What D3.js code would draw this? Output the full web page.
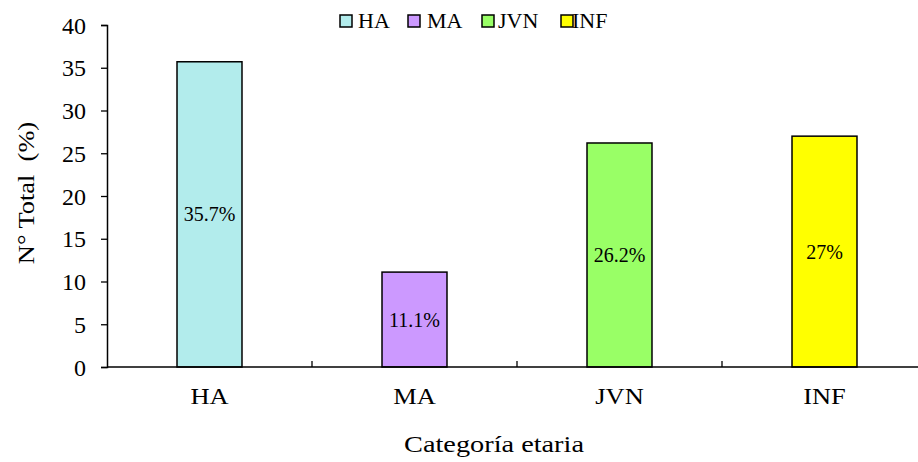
<!DOCTYPE html>
<html><head><meta charset="utf-8">
<script src="https://cdn.jsdelivr.net/npm/d3@7"></script>
<style>body{margin:0;background:#fff}svg{display:block}text{font-family:"Liberation Serif","Times New Roman",serif;fill:#000}</style>
</head><body>
<script>
const categories = ["HA","MA","JVN","INF"];
const values = [35.7, 11.1, 26.2, 27];
const barLabels = ["35.7%","11.1%","26.2%","27%"];
const colors = ["#b2ecec","#cc99ff","#99ff66","#ffff00"];
const yTicks = [0,5,10,15,20,25,30,35,40];

const W=918,H=462;
const FONT="Liberation Serif, Times New Roman, serif";
const svg=d3.select("body").append("svg").attr("width",W).attr("height",H).attr("font-family",FONT);
const x0=107, x1=927, yTop=25, yBot=367;
const x=d3.scaleBand().domain(categories).range([x0,x1]).paddingInner(0.683).paddingOuter(0.3415);
const y=d3.scaleLinear().domain([0,40]).range([yBot,yTop]);

function stext(g,tx,ty,sx,size,anchor,txt){
  return g.append("text").attr("transform",`translate(${tx},${ty}) scale(${sx},1)`)
    .attr("text-anchor",anchor).attr("font-family",FONT).style("font-size",size+"px").text(txt);
}

// bars
svg.selectAll("rect.bar").data(categories).enter().append("rect")
  .attr("x",d=>x(d)).attr("width",x.bandwidth())
  .attr("y",(d,i)=>y(values[i])).attr("height",(d,i)=>y(0)-y(values[i]))
  .attr("fill",(d,i)=>colors[i]).attr("stroke","#000").attr("stroke-width",1.5);

categories.forEach((c,i)=>{
  stext(svg,x(c)+x.bandwidth()/2,(y(values[i])+y(0))/2+7,1,20,"middle",barLabels[i]);
});

// y axis
const ya=svg.append("g").attr("transform",`translate(${x0},0)`)
  .call(d3.axisLeft(y).tickValues(yTicks).tickSize(6).tickPadding(15));
ya.attr("font-family",FONT);
ya.select(".domain").attr("stroke","#000").attr("stroke-width",1.5);
ya.selectAll(".tick line").attr("stroke","#000").attr("stroke-width",1.3);
ya.selectAll(".tick text").attr("font-family",FONT).style("font-size","24px").attr("dy","0.34em");

// x axis
svg.append("line").attr("x1",x0).attr("x2",x1).attr("y1",yBot).attr("y2",yBot).attr("stroke","#000").attr("stroke-width",1.5);
categories.slice(1).forEach(c=>{
  const xx=x(c)-(x.step()-x.bandwidth())/2;
  svg.append("line").attr("x1",xx).attr("x2",xx).attr("y1",yBot).attr("y2",yBot-6).attr("stroke","#000").attr("stroke-width",1.3);
});
categories.forEach(c=>{
  stext(svg,x(c)+x.bandwidth()/2,404,1.15,23,"middle",c);
});

// titles
stext(svg,494,452,1.18,24,"middle","Categoría etaria");
svg.append("text").attr("transform","translate(34,193) rotate(-90) scale(1.1,1)")
  .attr("text-anchor","middle").attr("font-family",FONT).style("font-size","24px").style("white-space","pre").text("N° Total  (%)");

// legend
const sqX=[340,408,482,561];
const txX=[358,427,498,572];
categories.forEach((c,i)=>{
  svg.append("rect").attr("x",sqX[i]).attr("y",15).attr("width",12).attr("height",12)
    .attr("fill",colors[i]).attr("stroke","#000").attr("stroke-width",1.5);
  stext(svg,txX[i],28,1.1,20,"start",c);
});
</script>
</body></html>
